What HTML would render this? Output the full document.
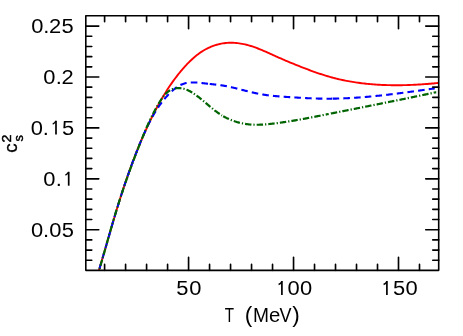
<!DOCTYPE html>
<html><head><meta charset="utf-8"><title>c_s^2 vs T</title>
<style>
html,body{margin:0;padding:0;background:#fff;}
body{width:463px;height:336px;overflow:hidden;}
svg{display:block;will-change:transform;}
text{font-family:"Liberation Sans",sans-serif;fill:#000;}
</style></head><body>
<svg width="463" height="336" viewBox="0 0 463 336">
<rect x="0" y="0" width="463" height="336" fill="#ffffff"/>
<defs><clipPath id="clip"><rect x="85.8" y="15.8" width="352.9" height="254.55"/></clipPath></defs>
<g clip-path="url(#clip)" fill="none" stroke-width="2" stroke-linejoin="round">
<path d="M96.53,278.29 L96.98,276.85 L97.42,275.42 L97.85,273.98 L98.29,272.54 L98.72,271.10 L99.16,269.66 L99.59,268.22 L100.02,266.78 L100.44,265.34 L100.87,263.90 L101.29,262.46 L101.72,261.02 L102.14,259.58 L102.56,258.14 L102.98,256.69 L103.40,255.25 L103.82,253.81 L104.24,252.36 L104.66,250.92 L105.07,249.48 L105.49,248.03 L105.90,246.59 L106.32,245.15 L106.74,243.70 L107.15,242.26 L107.57,240.81 L107.98,239.37 L108.40,237.93 L108.81,236.48 L109.23,235.04 L109.65,233.60 L110.06,232.15 L110.48,230.71 L110.90,229.27 L111.32,227.82 L111.74,226.38 L112.16,224.94 L112.58,223.50 L113.00,222.05 L113.43,220.61 L113.85,219.17 L114.28,217.73 L114.71,216.29 L115.14,214.85 L115.57,213.41 L116.00,211.97 L116.44,210.54 L116.87,209.10 L117.31,207.66 L117.75,206.22 L118.20,204.79 L118.64,203.35 L119.09,201.92 L119.54,200.49 L119.99,199.05 L120.44,197.62 L120.90,196.19 L121.35,194.76 L121.81,193.33 L122.28,191.90 L122.74,190.47 L123.21,189.04 L123.68,187.61 L124.15,186.19 L124.63,184.76 L125.11,183.34 L125.59,181.91 L126.07,180.49 L126.56,179.07 L127.05,177.65 L127.54,176.23 L128.04,174.81 L128.54,173.40 L129.04,171.98 L129.54,170.56 L130.05,169.15 L130.56,167.74 L131.08,166.33 L131.60,164.92 L132.12,163.51 L132.65,162.10 L133.17,160.69 L133.71,159.29 L134.24,157.89 L134.78,156.48 L135.33,155.08 L135.87,153.68 L136.42,152.29 L136.98,150.89 L137.54,149.49 L138.10,148.10 L138.67,146.71 L139.24,145.32 L139.81,143.93 L140.39,142.54 L140.97,141.16 L141.56,139.78 L142.15,138.40 L142.75,137.02 L143.35,135.64 L143.95,134.26 L144.56,132.89 L145.17,131.52 L145.79,130.15 L146.41,128.78 L147.04,127.42 L147.67,126.05 L148.31,124.69 L148.95,123.33 L149.59,121.98 L150.24,120.62 L150.90,119.27 L151.56,117.92 L152.23,116.57 L152.90,115.23 L153.57,113.89 L154.25,112.55 L154.94,111.21 L155.64,109.88 L156.34,108.55 L157.04,107.22 L157.76,105.90 L158.48,104.58 L159.20,103.27 L159.94,101.96 L160.68,100.65 L161.43,99.35 L162.18,98.05 L162.95,96.75 L163.72,95.47 L164.50,94.18 L165.29,92.90 L166.08,91.63 L166.89,90.36 L167.70,89.10 L168.52,87.84 L169.36,86.59 L170.20,85.34 L171.05,84.10 L171.91,82.87 L172.77,81.65 L173.65,80.43 L174.54,79.21 L175.44,78.01 L176.35,76.81 L177.27,75.62 L178.19,74.44 L179.13,73.27 L180.08,72.10 L181.04,70.95 L182.01,69.80 L182.99,68.66 L183.98,67.53 L184.98,66.41 L186.00,65.30 L187.02,64.20 L188.06,63.12 L189.11,62.05 L190.18,60.99 L191.27,59.95 L192.37,58.93 L193.49,57.93 L194.62,56.95 L195.78,55.99 L196.95,55.05 L198.15,54.14 L199.36,53.25 L200.60,52.40 L201.85,51.57 L203.13,50.78 L204.42,50.01 L205.73,49.28 L207.07,48.58 L208.41,47.92 L209.78,47.29 L211.16,46.70 L212.56,46.15 L213.97,45.63 L215.39,45.16 L216.83,44.72 L218.28,44.33 L219.74,43.98 L221.21,43.68 L222.69,43.42 L224.18,43.20 L225.67,43.03 L227.17,42.91 L228.67,42.82 L230.17,42.78 L231.67,42.78 L233.18,42.82 L234.68,42.90 L236.18,43.01 L237.67,43.16 L239.16,43.35 L240.65,43.57 L242.13,43.83 L243.60,44.12 L245.07,44.44 L246.53,44.79 L247.98,45.17 L249.43,45.57 L250.87,46.01 L252.30,46.46 L253.72,46.94 L255.14,47.44 L256.55,47.96 L257.96,48.50 L259.35,49.05 L260.75,49.61 L262.13,50.19 L263.52,50.77 L264.90,51.37 L266.27,51.97 L267.65,52.58 L269.02,53.20 L270.39,53.82 L271.75,54.44 L273.12,55.06 L274.49,55.67 L275.86,56.29 L277.23,56.90 L278.61,57.51 L279.98,58.12 L281.36,58.72 L282.74,59.32 L284.12,59.92 L285.50,60.51 L286.88,61.10 L288.26,61.68 L289.65,62.26 L291.04,62.84 L292.43,63.41 L293.82,63.98 L295.21,64.55 L296.60,65.11 L298.00,65.67 L299.39,66.22 L300.79,66.77 L302.19,67.32 L303.59,67.86 L304.99,68.40 L306.40,68.94 L307.80,69.47 L309.21,70.00 L310.62,70.52 L312.03,71.03 L313.44,71.55 L314.86,72.05 L316.27,72.55 L317.69,73.04 L319.12,73.53 L320.54,74.00 L321.97,74.47 L323.40,74.93 L324.83,75.38 L326.27,75.82 L327.71,76.25 L329.15,76.67 L330.60,77.08 L332.04,77.48 L333.50,77.87 L334.95,78.25 L336.41,78.61 L337.87,78.96 L339.33,79.31 L340.80,79.64 L342.26,79.96 L343.73,80.27 L345.21,80.57 L346.68,80.86 L348.16,81.14 L349.64,81.41 L351.12,81.67 L352.60,81.92 L354.08,82.16 L355.57,82.38 L357.05,82.60 L358.54,82.81 L360.03,83.01 L361.52,83.20 L363.01,83.38 L364.50,83.55 L366.00,83.72 L367.49,83.87 L368.99,84.02 L370.48,84.15 L371.98,84.28 L373.48,84.40 L374.98,84.51 L376.48,84.61 L377.98,84.70 L379.48,84.79 L380.98,84.87 L382.48,84.94 L383.98,85.00 L385.48,85.05 L386.98,85.10 L388.48,85.14 L389.98,85.17 L391.49,85.20 L392.99,85.22 L394.49,85.23 L395.99,85.23 L397.50,85.23 L399.00,85.22 L400.50,85.20 L402.00,85.18 L403.51,85.15 L405.01,85.12 L406.51,85.08 L408.01,85.03 L409.51,84.98 L411.01,84.92 L412.52,84.86 L414.02,84.79 L415.52,84.71 L417.02,84.63 L418.52,84.55 L420.02,84.46 L421.52,84.36 L423.02,84.26 L424.51,84.16 L426.01,84.05 L427.51,83.93 L429.01,83.81 L430.51,83.69 L432.00,83.56 L433.50,83.43 L435.00,83.29 L436.49,83.15 L437.99,83.01 L439.48,82.86 L440.98,82.71" stroke="#ff0000" stroke-width="1.9"/>
<path d="M96.53,278.30 L96.76,277.58 L96.98,276.86 L97.20,276.14 L97.42,275.42 L97.64,274.71 L97.85,273.99 L98.07,273.27 L98.29,272.55 L98.51,271.83 L98.72,271.11 L98.94,270.40 L99.16,269.68 L99.37,268.96 L99.59,268.24 L99.80,267.52 L100.02,266.80 L100.23,266.08 L100.44,265.36 L100.66,264.64 L100.87,263.92 L101.08,263.20 L101.29,262.48 L101.50,261.76 L101.72,261.04 L101.93,260.32 L102.14,259.60 L102.35,258.88 L102.56,258.16 L102.77,257.44 L102.98,256.72 L103.19,255.99 L103.40,255.27 L103.61,254.55 L103.81,253.83 L104.02,253.11 L104.23,252.39 L104.44,251.67 L104.65,250.95 L104.86,250.23 L105.06,249.50 L105.27,248.78 L105.48,248.06 L105.69,247.34 L105.89,246.62 L106.10,245.90 L106.31,245.18 L106.52,244.45 L106.72,243.73 L106.93,243.01 L107.14,242.29 L107.35,241.57 L107.55,240.85 L107.76,240.12 L107.97,239.40 L108.18,238.68 L108.38,237.96 L108.59,237.24 L108.80,236.52 L109.01,235.80 L109.21,235.07 L109.42,234.35 L109.63,233.63 L109.84,232.91 L110.05,232.19 L110.25,231.47 L110.46,230.75 L110.67,230.03 L110.88,229.30 L111.09,228.58 L111.30,227.86 L111.51,227.14 L111.72,226.42 L111.93,225.70 L112.14,224.98 L112.35,224.26 L112.56,223.54 L112.77,222.82 L112.98,222.10 L113.20,221.38 L113.41,220.66 L113.62,219.94 L113.83,219.22 L114.05,218.50 L114.26,217.78 L114.47,217.06 L114.69,216.34 L114.90,215.62 L115.12,214.90 L115.33,214.18 L115.55,213.46 L115.77,212.74 L115.98,212.03 L116.20,211.31 L116.42,210.59 L116.64,209.87 L116.86,209.15 L117.07,208.43 L117.29,207.72 L117.52,207.00 L117.74,206.28 L117.96,205.56 L118.18,204.85 L118.40,204.13 L118.62,203.41 L118.85,202.70 L119.07,201.98 L119.30,201.26 L119.52,200.55 L119.75,199.83 L119.97,199.12 L120.20,198.40 L120.43,197.68 L120.66,196.97 L120.89,196.25 L121.11,195.54 L121.34,194.82 L121.57,194.11 L121.81,193.40 L122.04,192.68 L122.27,191.97 L122.50,191.25 L122.74,190.54 L122.97,189.83 L123.20,189.11 L123.44,188.40 L123.68,187.69 L123.91,186.98 L124.15,186.26 L124.39,185.55 L124.63,184.84 L124.87,184.13 L125.11,183.42 L125.35,182.71 L125.59,182.00 L125.83,181.28 L126.07,180.57 L126.32,179.86 L126.56,179.15 L126.80,178.44 L127.05,177.73 L127.30,177.03 L127.54,176.32 L127.79,175.61 L128.04,174.90 L128.29,174.19 L128.54,173.48 L128.79,172.78 L129.04,172.07 L129.29,171.36 L129.54,170.65 L129.80,169.95 L130.05,169.24 L130.31,168.53 L130.56,167.83 L130.82,167.12 L131.08,166.42 L131.33,165.71 L131.59,165.01 L131.85,164.30 L132.11,163.60 L132.37,162.90 L132.64,162.19 L132.90,161.49 L133.16,160.79 L133.43,160.08 L133.69,159.38 L133.96,158.68 L134.23,157.98 L134.49,157.28 L134.76,156.58 L135.03,155.88 L135.30,155.18 L135.57,154.48 L135.85,153.78 L136.12,153.08 L136.39,152.38 L136.67,151.68 L136.94,150.98 L137.22,150.28 L137.50,149.58 L137.77,148.89 L138.05,148.19 L138.33,147.49 L138.61,146.80 L138.90,146.10 L139.18,145.41 L139.46,144.71 L139.75,144.02 L140.03,143.32 L140.32,142.63 L140.61,141.94 L140.90,141.24 L141.18,140.55 L141.48,139.86 L141.77,139.17 L142.06,138.47 L142.35,137.78 L142.65,137.09 L142.94,136.40 L143.24,135.71 L143.54,135.02 L143.84,134.34 L144.14,133.65 L144.44,132.96 L144.75,132.28 L145.05,131.59 L145.36,130.91 L145.67,130.22 L145.99,129.54 L146.30,128.86 L146.62,128.18 L146.94,127.50 L147.26,126.82 L147.58,126.14 L147.91,125.47 L148.23,124.79 L148.57,124.12 L148.90,123.44 L149.23,122.77 L149.57,122.10 L149.91,121.43 L150.26,120.77 L150.61,120.10 L150.96,119.44 L151.31,118.78 L151.67,118.11 L152.03,117.46 L152.39,116.80 L152.76,116.14 L153.13,115.49 L153.50,114.84 L153.88,114.19 L154.26,113.54 L154.64,112.90 L155.03,112.25 L155.42,111.61 L155.82,110.98 L156.22,110.34 L156.62,109.71 L157.03,109.08 L157.44,108.45 L157.85,107.82 L158.27,107.20 L158.70,106.58 L159.12,105.96 L159.55,105.35 L159.99,104.74 L160.43,104.13 L160.88,103.53 L161.33,102.92 L161.78,102.33 L162.24,101.73 L162.70,101.14 L163.17,100.55 L163.64,99.97 L164.12,99.39 L164.60,98.81 L165.08,98.24 L165.57,97.67 L166.07,97.11 L166.57,96.55 L167.07,95.99 L167.58,95.44 L168.10,94.89 L168.62,94.35 L169.14,93.81 L169.67,93.28 L170.20,92.75 L170.74,92.23 L171.28,91.71 L171.83,91.20 L172.39,90.70 L172.95,90.20 L173.52,89.71 L174.10,89.23 L174.69,88.76 L175.28,88.30 L175.88,87.86 L176.49,87.42 L177.11,86.99 L177.74,86.58 L178.38,86.19 L179.03,85.81 L179.68,85.44 L180.35,85.10 L181.02,84.77 L181.71,84.46 L182.40,84.17 L183.10,83.91 L183.82,83.67 L184.53,83.45 L185.26,83.26 L185.99,83.09 L186.73,82.94 L187.47,82.82 L188.21,82.71 L188.96,82.62 L189.70,82.55 L190.45,82.50 L191.20,82.47 L191.95,82.44 L192.70,82.43 L193.45,82.44 L194.20,82.45 L194.95,82.48 L195.70,82.51 L196.45,82.56 L197.20,82.61 L197.95,82.67 L198.70,82.73 L199.45,82.80 L200.19,82.88 L200.94,82.95 L201.69,83.03 L202.43,83.12 L203.18,83.20 L203.92,83.29 L204.67,83.37 L205.42,83.46 L206.16,83.54 L206.91,83.62 L207.66,83.71 L208.40,83.79 L209.00,83.85" stroke="#0000ff" stroke-width="2.1" stroke-dasharray="6.58 4.16" stroke-dashoffset="0.74"/>
<path d="M209.70,83.92 L209.89,83.94 L210.64,84.02 L211.39,84.10 L212.13,84.18 L212.88,84.26 L213.63,84.34 L214.37,84.42 L215.12,84.51 L215.86,84.59 L216.61,84.68 L217.36,84.77 L218.10,84.87 L218.85,84.96 L219.59,85.06 L220.33,85.17 L221.08,85.27 L221.82,85.38 L222.56,85.50 L223.30,85.62 L224.04,85.75 L224.78,85.88 L225.52,86.01 L226.26,86.15 L226.99,86.29 L227.73,86.44 L228.47,86.59 L229.20,86.75 L229.93,86.90 L230.67,87.07 L231.40,87.23 L232.13,87.40 L232.86,87.57 L233.59,87.74 L234.32,87.91 L235.05,88.09 L235.78,88.27 L236.51,88.45 L237.24,88.63 L237.97,88.81 L238.70,88.99 L239.42,89.18 L240.15,89.36 L240.88,89.55 L241.61,89.74 L242.33,89.92 L243.06,90.11 L243.79,90.30 L244.51,90.48 L245.24,90.67 L245.97,90.86 L246.70,91.04 L247.42,91.22 L248.15,91.41 L248.88,91.59 L249.61,91.77 L250.34,91.95 L251.07,92.12 L251.80,92.30 L252.53,92.47 L253.26,92.64 L253.99,92.80 L254.73,92.97 L255.46,93.13 L256.19,93.29 L256.93,93.44 L257.66,93.59 L258.40,93.74 L259.14,93.88 L259.87,94.02 L260.61,94.16 L261.35,94.29 L262.09,94.42 L262.83,94.54 L263.57,94.66 L264.31,94.77 L265.06,94.88 L265.80,94.99 L266.54,95.09 L267.29,95.19 L268.03,95.29 L268.78,95.39 L269.52,95.48 L270.27,95.56 L271.01,95.65 L271.76,95.73 L272.51,95.81 L273.25,95.89 L274.00,95.96 L274.75,96.03 L275.50,96.10 L276.24,96.17 L276.99,96.23 L277.74,96.30 L278.49,96.36 L279.24,96.42 L279.98,96.47 L280.73,96.53 L281.48,96.59 L282.23,96.64 L282.98,96.69 L283.73,96.74 L284.48,96.79 L285.23,96.84 L285.98,96.89 L286.72,96.94 L287.47,96.99 L288.22,97.03 L288.97,97.08 L289.72,97.13 L290.47,97.17 L291.22,97.22 L291.97,97.26 L292.72,97.31 L293.47,97.36 L294.22,97.40 L294.97,97.45 L295.72,97.49 L296.47,97.54 L297.21,97.59 L297.96,97.63 L298.71,97.68 L299.46,97.72 L300.21,97.77 L300.96,97.81 L301.71,97.85 L302.46,97.90 L303.21,97.94 L303.96,97.98 L304.71,98.02 L305.46,98.06 L306.21,98.10 L306.96,98.14 L307.71,98.18 L308.46,98.22 L309.21,98.25 L309.96,98.29 L310.71,98.32 L311.46,98.35 L312.21,98.39 L312.96,98.42 L313.71,98.44 L314.46,98.47 L315.21,98.50 L315.96,98.52 L316.71,98.54 L317.46,98.57 L318.21,98.59 L318.96,98.60 L319.71,98.62 L320.46,98.64 L321.21,98.65 L321.96,98.66 L322.71,98.67 L323.46,98.68 L324.21,98.69 L324.97,98.69 L325.72,98.69 L326.47,98.70 L327.22,98.70 L327.97,98.70 L328.72,98.69 L329.47,98.69 L330.22,98.69 L330.97,98.68 L331.72,98.67 L332.00,98.67" stroke="#0000ff" stroke-width="2.1" stroke-dasharray="6.58 4.16" stroke-dashoffset="0.00"/>
<path d="M332.60,98.66 L333.22,98.65 L333.97,98.64 L334.72,98.62 L335.47,98.61 L336.23,98.59 L336.98,98.57 L337.73,98.55 L338.48,98.53 L339.23,98.51 L339.98,98.49 L340.73,98.46 L341.48,98.43 L342.23,98.41 L342.98,98.38 L343.73,98.35 L344.48,98.32 L345.23,98.28 L345.98,98.25 L346.73,98.21 L347.48,98.18 L348.23,98.14 L348.98,98.10 L349.73,98.06 L350.48,98.02 L351.23,97.98 L351.98,97.93 L352.72,97.89 L353.47,97.84 L354.22,97.79 L354.97,97.75 L355.72,97.70 L356.47,97.65 L357.22,97.59 L357.97,97.54 L358.72,97.49 L359.47,97.43 L360.21,97.38 L360.96,97.32 L361.71,97.26 L362.46,97.20 L363.21,97.14 L363.96,97.08 L364.70,97.02 L365.45,96.96 L366.20,96.89 L366.95,96.83 L367.70,96.76 L368.44,96.70 L369.19,96.63 L369.94,96.56 L370.69,96.49 L371.43,96.42 L372.18,96.35 L372.93,96.28 L373.68,96.21 L374.42,96.13 L375.17,96.06 L375.92,95.98 L376.66,95.91 L377.41,95.83 L378.16,95.75 L378.90,95.67 L379.65,95.59 L380.40,95.51 L381.14,95.43 L381.89,95.35 L382.64,95.27 L383.38,95.19 L384.13,95.10 L384.87,95.02 L385.62,94.94 L386.37,94.85 L387.11,94.76 L387.86,94.68 L388.60,94.59 L389.35,94.50 L390.09,94.41 L390.84,94.32 L391.59,94.23 L392.33,94.14 L393.08,94.05 L393.82,93.96 L394.57,93.87 L395.31,93.78 L396.06,93.68 L396.80,93.59 L397.55,93.50 L398.29,93.40 L399.03,93.31 L399.78,93.21 L400.52,93.12 L401.27,93.02 L402.01,92.92 L402.76,92.83 L403.50,92.73 L404.25,92.63 L404.99,92.53 L405.73,92.43 L406.48,92.33 L407.22,92.24 L407.97,92.14 L408.71,92.04 L409.45,91.93 L410.20,91.83 L410.94,91.73 L411.69,91.63 L412.43,91.53 L413.17,91.43 L413.92,91.33 L414.66,91.22 L415.41,91.12 L416.15,91.02 L416.89,90.91 L417.64,90.81 L418.38,90.71 L419.12,90.60 L419.87,90.50 L420.61,90.40 L421.35,90.29 L422.10,90.19 L422.84,90.08 L423.58,89.98 L424.33,89.87 L425.07,89.77 L425.81,89.67 L426.56,89.56 L427.30,89.46 L428.04,89.35 L428.79,89.25 L429.53,89.14 L430.27,89.04 L431.02,88.93 L431.76,88.83 L432.50,88.72 L433.25,88.61 L433.99,88.51 L434.73,88.40 L434.80,88.40" stroke="#0000ff" stroke-width="2.1" stroke-dasharray="6.58 4.16" stroke-dashoffset="0.00"/>
<path d="M96.53,278.37 L96.75,277.65 L96.98,276.93 L97.20,276.22 L97.42,275.50 L97.65,274.78 L97.87,274.07 L98.09,273.35 L98.31,272.63 L98.53,271.91 L98.74,271.19 L98.96,270.48 L99.18,269.76 L99.40,269.04 L99.61,268.32 L99.83,267.60 L100.04,266.88 L100.26,266.16 L100.47,265.44 L100.68,264.72 L100.89,264.00 L101.11,263.28 L101.32,262.56 L101.53,261.84 L101.74,261.12 L101.95,260.40 L102.16,259.68 L102.37,258.96 L102.58,258.23 L102.79,257.51 L102.99,256.79 L103.20,256.07 L103.41,255.35 L103.62,254.63 L103.82,253.91 L104.03,253.18 L104.24,252.46 L104.44,251.74 L104.65,251.02 L104.86,250.30 L105.06,249.57 L105.27,248.85 L105.47,248.13 L105.68,247.41 L105.88,246.68 L106.09,245.96 L106.29,245.24 L106.50,244.52 L106.70,243.79 L106.91,243.07 L107.11,242.35 L107.31,241.63 L107.52,240.91 L107.72,240.18 L107.93,239.46 L108.13,238.74 L108.34,238.02 L108.54,237.29 L108.75,236.57 L108.95,235.85 L109.16,235.13 L109.36,234.40 L109.57,233.68 L109.77,232.96 L109.98,232.24 L110.19,231.52 L110.39,230.79 L110.60,230.07 L110.81,229.35 L111.01,228.63 L111.22,227.91 L111.43,227.19 L111.64,226.46 L111.84,225.74 L112.05,225.02 L112.26,224.30 L112.47,223.58 L112.68,222.86 L112.89,222.14 L113.10,221.42 L113.31,220.70 L113.53,219.98 L113.74,219.26 L113.95,218.54 L113.99,218.40" stroke="#006400" stroke-width="2.2" stroke-dasharray="6.4 2.0 1.25 2.0" stroke-dashoffset="10.15"/>
<path d="M114.76,215.80 L114.81,215.66 L115.02,214.94 L115.24,214.22 L115.46,213.50 L115.67,212.78 L115.89,212.06 L116.11,211.34 L116.33,210.63 L116.55,209.91 L116.77,209.19 L116.99,208.47 L117.21,207.76 L117.44,207.04 L117.66,206.32 L117.88,205.61 L118.11,204.89 L118.33,204.17 L118.56,203.46 L118.79,202.74 L119.01,202.03 L119.24,201.31 L119.47,200.60 L119.70,199.88 L119.93,199.17 L120.16,198.45 L120.39,197.74 L120.63,197.02 L120.86,196.31 L121.09,195.60 L121.33,194.88 L121.56,194.17 L121.80,193.46 L122.03,192.74 L122.27,192.03 L122.51,191.32 L122.74,190.61 L122.98,189.90 L123.22,189.18 L123.46,188.47 L123.70,187.76 L123.94,187.05 L124.19,186.34 L124.43,185.63 L124.67,184.92 L124.92,184.21 L125.16,183.50 L125.40,182.79 L125.65,182.08 L125.90,181.37 L126.14,180.66 L126.39,179.95 L126.64,179.24 L126.89,178.53 L127.14,177.83 L127.39,177.12 L127.64,176.41 L127.89,175.70 L128.14,175.00 L128.39,174.29 L128.65,173.58 L128.90,172.87 L129.15,172.17 L129.41,171.46 L129.66,170.76 L129.92,170.05 L130.18,169.34 L130.43,168.64 L130.69,167.93 L130.95,167.23 L131.21,166.52 L131.47,165.82 L131.73,165.12 L131.99,164.41 L132.25,163.71 L132.51,163.00 L132.77,162.30 L133.04,161.60 L133.30,160.89 L133.57,160.19 L133.83,159.49 L134.10,158.79 L134.36,158.08 L134.63,157.38 L134.90,156.68 L135.16,155.98 L135.43,155.28 L135.70,154.58 L135.97,153.88 L136.24,153.18 L136.51,152.47 L136.78,151.77 L137.05,151.07 L137.32,150.37 L137.60,149.68 L137.87,148.98 L138.14,148.28 L138.42,147.58 L138.69,146.88 L138.97,146.18 L139.24,145.48 L139.52,144.78 L139.80,144.09 L140.08,143.39 L140.35,142.69 L140.63,141.99 L140.91,141.30 L141.19,140.60 L141.47,139.90 L141.75,139.21 L142.03,138.51 L142.32,137.82 L142.60,137.12 L142.88,136.42 L143.17,135.73 L143.45,135.04 L143.74,134.34 L144.03,133.65 L144.31,132.95 L144.60,132.26 L144.89,131.57 L145.19,130.88 L145.48,130.19 L145.77,129.50 L146.07,128.81 L146.37,128.12 L146.66,127.43 L146.96,126.74 L147.27,126.05 L147.57,125.36 L147.88,124.68 L148.18,123.99 L148.49,123.31 L148.80,122.63 L149.12,121.94 L149.43,121.26 L149.75,120.58 L150.00,120.04" stroke="#006400" stroke-width="2.2" stroke-dasharray="6.4 2.0 1.25 2.0" stroke-dashoffset="0.00"/>
<path d="M150.00,120.04 L150.07,119.90 L150.39,119.22 L150.71,118.55 L151.04,117.87 L151.36,117.19 L151.69,116.52 L152.03,115.85 L152.36,115.17 L152.70,114.50 L153.04,113.83 L153.38,113.17 L153.73,112.50 L154.08,111.83 L154.43,111.17 L154.78,110.51 L155.14,109.85 L155.50,109.19 L155.86,108.53 L156.22,107.87 L156.59,107.22 L156.96,106.57 L157.34,105.92 L157.71,105.27 L158.09,104.62 L158.48,103.97 L158.86,103.33 L159.25,102.69 L159.65,102.05 L160.04,101.41 L160.44,100.78 L160.85,100.14 L161.26,99.51 L161.67,98.89 L162.10,98.27 L162.53,97.65 L162.97,97.04 L163.42,96.44 L163.88,95.85 L164.35,95.27 L164.84,94.70 L165.34,94.14 L165.86,93.60 L166.40,93.07 L166.95,92.56 L167.52,92.07 L168.10,91.60 L168.71,91.16 L169.33,90.74 L169.97,90.35 L170.63,89.98 L171.30,89.65 L171.99,89.36 L172.69,89.09 L173.41,88.86 L174.13,88.67 L174.87,88.50 L175.61,88.37 L176.35,88.26 L177.10,88.19 L177.85,88.14 L178.60,88.12 L179.35,88.13 L180.10,88.16 L180.84,88.23 L181.59,88.33 L182.33,88.45 L183.07,88.60 L183.80,88.77 L184.52,88.98 L185.23,89.20 L185.94,89.45 L186.64,89.72 L187.34,90.00 L188.02,90.31 L188.70,90.63 L189.37,90.97 L190.03,91.33 L190.69,91.69 L191.34,92.07 L191.98,92.46 L192.61,92.86 L193.25,93.27 L193.87,93.68 L194.49,94.10 L195.11,94.53 L195.72,94.96 L196.33,95.40 L196.94,95.85 L197.54,96.30 L198.14,96.75 L198.73,97.21 L199.33,97.67 L199.92,98.13 L200.50,98.60 L201.09,99.07 L201.67,99.54 L202.25,100.02 L202.83,100.50 L203.41,100.98 L203.98,101.46 L204.56,101.94 L205.13,102.43 L205.71,102.91 L206.28,103.40 L206.85,103.89 L207.42,104.37 L208.00,104.86 L208.57,105.34 L209.14,105.83 L209.72,106.31 L210.29,106.79 L210.87,107.27 L211.45,107.75 L212.03,108.23 L212.61,108.70 L213.20,109.17 L213.78,109.64 L214.37,110.10 L214.96,110.57 L215.56,111.02 L216.16,111.48 L216.76,111.92 L217.37,112.37 L217.98,112.81 L218.59,113.24 L219.21,113.67 L219.83,114.09 L220.46,114.50 L221.09,114.91 L221.72,115.31 L222.00,115.48" stroke="#006400" stroke-width="2.2" stroke-dasharray="6.4 2.0 1.25 2.0" stroke-dashoffset="4.95"/>
<path d="M223.20,116.19 L223.66,116.46 L224.31,116.83 L224.97,117.18 L225.64,117.53 L226.31,117.88 L226.98,118.21 L227.65,118.53 L228.34,118.85 L229.02,119.16 L229.71,119.46 L230.40,119.75 L231.10,120.03 L231.79,120.31 L232.50,120.58 L233.20,120.83 L233.91,121.08 L234.62,121.32 L235.33,121.56 L236.05,121.78 L236.77,122.00 L237.49,122.21 L238.21,122.41 L238.94,122.60 L239.67,122.78 L240.40,122.96 L241.13,123.13 L241.86,123.29 L242.60,123.44 L243.34,123.58 L244.08,123.71 L244.82,123.84 L245.56,123.96 L246.30,124.07 L247.04,124.17 L247.79,124.26 L248.53,124.35 L249.28,124.43 L250.03,124.49 L250.78,124.55 L251.53,124.61 L252.28,124.65 L253.03,124.69 L253.78,124.72 L254.53,124.74 L255.28,124.76 L256.03,124.77 L256.78,124.77 L257.53,124.77 L258.28,124.76 L259.03,124.74 L259.78,124.72 L260.53,124.70 L261.28,124.66 L262.03,124.63 L262.78,124.58 L263.53,124.54 L264.28,124.49 L265.03,124.43 L265.78,124.37 L266.53,124.31 L267.27,124.24 L268.02,124.17 L268.77,124.10 L269.52,124.02 L270.26,123.94 L271.01,123.86 L271.75,123.78 L272.50,123.69 L273.25,123.60 L273.99,123.51 L274.74,123.42 L275.48,123.33 L276.23,123.23 L276.97,123.14 L277.71,123.04 L278.46,122.94 L279.20,122.84 L279.95,122.73 L280.69,122.63 L281.43,122.53 L282.18,122.42 L282.92,122.31 L283.66,122.20 L284.41,122.09 L285.15,121.98 L285.89,121.87 L286.63,121.75 L287.37,121.64 L288.12,121.52 L288.86,121.40 L289.60,121.29 L290.34,121.17 L291.08,121.04 L291.82,120.92 L292.56,120.80 L293.30,120.68 L294.04,120.55 L294.78,120.42 L295.52,120.30 L296.26,120.17 L297.00,120.04 L297.74,119.91 L298.48,119.78 L299.22,119.65 L299.96,119.52 L300.70,119.39 L301.44,119.25 L302.18,119.12 L302.92,118.98 L303.65,118.85 L304.39,118.71 L305.13,118.57 L305.87,118.43 L306.61,118.30 L307.34,118.16 L308.08,118.02 L308.82,117.88 L309.56,117.74 L310.30,117.60 L311.03,117.45 L311.77,117.31 L312.51,117.17 L313.24,117.03 L313.98,116.88 L314.72,116.74 L315.45,116.60 L316.19,116.45 L316.93,116.31 L317.67,116.16 L318.40,116.02 L319.14,115.87 L319.88,115.73 L320.61,115.58 L321.35,115.44 L322.08,115.29 L322.82,115.14 L323.56,115.00 L324.29,114.85 L325.03,114.70 L325.77,114.56 L326.50,114.41 L327.24,114.26 L327.98,114.12 L328.70,113.97" stroke="#006400" stroke-width="2.2" stroke-dasharray="6.4 2.0 1.25 2.0" stroke-dashoffset="0.00"/>
<path d="M330.90,113.54 L330.92,113.53 L331.66,113.39 L332.39,113.24 L333.13,113.09 L333.87,112.95 L334.60,112.80 L335.34,112.65 L336.08,112.51 L336.81,112.36 L337.55,112.22 L338.29,112.07 L339.02,111.92 L339.76,111.78 L340.50,111.63 L341.23,111.49 L341.97,111.34 L342.70,111.19 L343.44,111.05 L344.18,110.90 L344.91,110.76 L345.65,110.61 L346.39,110.46 L347.12,110.32 L347.86,110.17 L348.60,110.02 L349.33,109.88 L350.07,109.73 L350.81,109.59 L351.54,109.44 L352.28,109.29 L353.02,109.15 L353.75,109.00 L354.49,108.86 L355.22,108.71 L355.96,108.56 L356.70,108.42 L357.43,108.27 L358.17,108.12 L358.91,107.98 L359.64,107.83 L360.38,107.69 L361.12,107.54 L361.85,107.39 L362.59,107.25 L363.33,107.10 L364.06,106.95 L364.80,106.81 L365.53,106.66 L366.27,106.51 L367.01,106.37 L367.74,106.22 L368.48,106.07 L369.22,105.93 L369.95,105.78 L370.69,105.63 L371.43,105.49 L372.16,105.34 L372.90,105.19 L373.63,105.04 L374.37,104.90 L375.11,104.75 L375.84,104.60 L376.58,104.46 L377.32,104.31 L378.05,104.16 L378.79,104.01 L379.52,103.87 L380.26,103.72 L381.00,103.57 L381.73,103.42 L382.47,103.28 L383.20,103.13 L383.94,102.98 L384.68,102.83 L385.41,102.68 L386.15,102.54 L386.89,102.39 L387.62,102.24 L388.36,102.09 L389.09,101.94 L389.83,101.79 L390.57,101.65 L391.30,101.50 L392.04,101.35 L392.77,101.20 L393.51,101.05 L394.24,100.90 L394.98,100.75 L395.72,100.60 L396.45,100.45 L397.19,100.30 L397.92,100.15 L398.66,100.01 L399.40,99.86 L400.13,99.71 L400.87,99.56 L401.60,99.41 L402.34,99.26 L403.07,99.11 L403.81,98.96 L404.55,98.80 L405.28,98.65 L406.02,98.50 L406.75,98.35 L407.49,98.20 L408.22,98.05 L408.96,97.90 L409.69,97.75 L410.43,97.60 L411.16,97.45 L411.90,97.30 L412.64,97.14 L413.37,96.99 L414.11,96.84 L414.84,96.69 L415.58,96.54 L416.31,96.38 L417.05,96.23 L417.78,96.08 L418.52,95.93 L419.25,95.77 L419.99,95.62 L420.72,95.47 L421.46,95.31 L422.19,95.16 L422.93,95.01 L423.66,94.85 L424.40,94.70 L425.13,94.55 L425.87,94.39 L426.60,94.24 L427.34,94.08 L428.07,93.93 L428.81,93.77 L429.54,93.62 L430.28,93.46 L431.01,93.31 L431.74,93.15 L432.48,93.00 L433.21,92.84 L433.95,92.69 L434.68,92.53 L435.42,92.38 L436.15,92.22 L436.20,92.22" stroke="#006400" stroke-width="2.2" stroke-dasharray="6.4 2.0 1.25 2.0" stroke-dashoffset="0.00"/>
</g>
<path d="M104.60,270.35 v-5.97 M104.60,15.80 v5.97 M125.59,270.35 v-5.97 M125.59,15.80 v5.97 M146.59,270.35 v-5.97 M146.59,15.80 v5.97 M167.58,270.35 v-5.97 M167.58,15.80 v5.97 M188.57,270.35 v-12.98 M188.57,15.80 v12.98 M209.56,270.35 v-5.97 M209.56,15.80 v5.97 M230.56,270.35 v-5.97 M230.56,15.80 v5.97 M251.55,270.35 v-5.97 M251.55,15.80 v5.97 M272.54,270.35 v-5.97 M272.54,15.80 v5.97 M293.54,270.35 v-12.98 M293.54,15.80 v12.98 M314.53,270.35 v-5.97 M314.53,15.80 v5.97 M335.52,270.35 v-5.97 M335.52,15.80 v5.97 M356.52,270.35 v-5.97 M356.52,15.80 v5.97 M377.51,270.35 v-5.97 M377.51,15.80 v5.97 M398.50,270.35 v-12.98 M398.50,15.80 v12.98 M419.50,270.35 v-5.97 M419.50,15.80 v5.97 M85.80,260.24 h5.97 M438.70,260.24 h-5.97 M85.80,250.06 h5.97 M438.70,250.06 h-5.97 M85.80,239.88 h5.97 M438.70,239.88 h-5.97 M85.80,229.70 h12.98 M438.70,229.70 h-12.98 M85.80,219.52 h5.97 M438.70,219.52 h-5.97 M85.80,209.34 h5.97 M438.70,209.34 h-5.97 M85.80,199.16 h5.97 M438.70,199.16 h-5.97 M85.80,188.98 h5.97 M438.70,188.98 h-5.97 M85.80,178.80 h12.98 M438.70,178.80 h-12.98 M85.80,168.62 h5.97 M438.70,168.62 h-5.97 M85.80,158.44 h5.97 M438.70,158.44 h-5.97 M85.80,148.26 h5.97 M438.70,148.26 h-5.97 M85.80,138.08 h5.97 M438.70,138.08 h-5.97 M85.80,127.90 h12.98 M438.70,127.90 h-12.98 M85.80,117.72 h5.97 M438.70,117.72 h-5.97 M85.80,107.54 h5.97 M438.70,107.54 h-5.97 M85.80,97.36 h5.97 M438.70,97.36 h-5.97 M85.80,87.18 h5.97 M438.70,87.18 h-5.97 M85.80,77.00 h12.98 M438.70,77.00 h-12.98 M85.80,66.82 h5.97 M438.70,66.82 h-5.97 M85.80,56.64 h5.97 M438.70,56.64 h-5.97 M85.80,46.46 h5.97 M438.70,46.46 h-5.97 M85.80,36.28 h5.97 M438.70,36.28 h-5.97 M85.80,26.10 h12.98 M438.70,26.10 h-12.98" stroke="#000" stroke-width="1.65" stroke-linecap="round" fill="none"/>
<rect x="85.8" y="15.8" width="352.9" height="254.55" fill="none" stroke="#000" stroke-width="1.6" stroke-linejoin="round"/>
<text transform="translate(31.24,33.10) scale(1.07,1.0)" font-size="20.5">0</text>
<text transform="translate(43.30,33.10) scale(1.07,1.0)" font-size="20.5">.</text>
<text transform="translate(49.00,33.10) scale(1.07,1.0)" font-size="20.5">2</text>
<text transform="translate(61.42,33.10) scale(1.07,1.0)" font-size="20.5">5</text>
<text transform="translate(43.34,84.20) scale(1.07,1.0)" font-size="20.5">0</text>
<text transform="translate(55.70,84.20) scale(1.07,1.0)" font-size="20.5">.</text>
<text transform="translate(61.50,84.20) scale(1.07,1.0)" font-size="20.5">2</text>
<text transform="translate(30.74,134.80) scale(1.07,1.0)" font-size="20.5">0</text>
<text transform="translate(42.80,134.80) scale(1.07,1.0)" font-size="20.5">.</text>
<path d="M56.00,134.60 V120.70" stroke="#000" stroke-width="1.7" fill="none"/>
<path d="M55.90,121.00 Q55.10,123.20 52.70,124.10" stroke="#000" stroke-width="1.4" fill="none"/>
<text transform="translate(62.02,134.80) scale(1.07,1.0)" font-size="20.5">5</text>
<text transform="translate(43.34,185.90) scale(1.07,1.0)" font-size="20.5">0</text>
<text transform="translate(55.70,185.90) scale(1.07,1.0)" font-size="20.5">.</text>
<path d="M68.70,185.70 V171.80" stroke="#000" stroke-width="1.7" fill="none"/>
<path d="M68.60,172.10 Q67.80,174.30 65.40,175.20" stroke="#000" stroke-width="1.4" fill="none"/>
<text transform="translate(30.94,236.70) scale(1.07,1.0)" font-size="20.5">0</text>
<text transform="translate(43.10,236.70) scale(1.07,1.0)" font-size="20.5">.</text>
<text transform="translate(49.24,236.70) scale(1.07,1.0)" font-size="20.5">0</text>
<text transform="translate(61.72,236.70) scale(1.07,1.0)" font-size="20.5">5</text>
<text transform="translate(176.22,295.20) scale(1.07,1.0)" font-size="20.5">5</text>
<text transform="translate(189.14,295.20) scale(1.07,1.0)" font-size="20.5">0</text>
<path d="M281.90,295.00 V281.10" stroke="#000" stroke-width="1.7" fill="none"/>
<path d="M281.80,281.40 Q281.00,283.60 278.60,284.50" stroke="#000" stroke-width="1.4" fill="none"/>
<text transform="translate(287.54,295.20) scale(1.07,1.0)" font-size="20.5">0</text>
<text transform="translate(299.94,295.20) scale(1.07,1.0)" font-size="20.5">0</text>
<path d="M386.90,295.00 V281.10" stroke="#000" stroke-width="1.7" fill="none"/>
<path d="M386.80,281.40 Q386.00,283.60 383.60,284.50" stroke="#000" stroke-width="1.4" fill="none"/>
<text transform="translate(393.02,295.20) scale(1.07,1.0)" font-size="20.5">5</text>
<text transform="translate(405.44,295.20) scale(1.07,1.0)" font-size="20.5">0</text>
<text transform="translate(224.86,321.80) scale(0.76,1.0)" font-size="20">T</text>
<text transform="translate(244.80,321.90) scale(1.05,1.0)" font-size="21.5">(</text>
<text transform="translate(252.93,321.80) scale(0.96,1.0)" font-size="20">M</text>
<text transform="translate(268.93,321.90) scale(1.02,1.0)" font-size="20">e</text>
<text transform="translate(279.42,321.80) scale(0.9,1.0)" font-size="20">V</text>
<text transform="translate(292.37,321.90) scale(1.05,1.0)" font-size="21.5">)</text>
<text transform="translate(16.50,152.70) rotate(-90) scale(1.05,1)" font-size="18" stroke="#000" stroke-width="0.35">c</text>
<text transform="translate(10.70,142.42) rotate(-90) scale(1.12,1)" font-size="12.75" stroke="#000" stroke-width="0.45">2</text>
<text transform="translate(22.95,141.56) rotate(-90) scale(1.0,1)" font-size="12.8" stroke="#000" stroke-width="0.45">s</text>
</svg>
</body></html>
